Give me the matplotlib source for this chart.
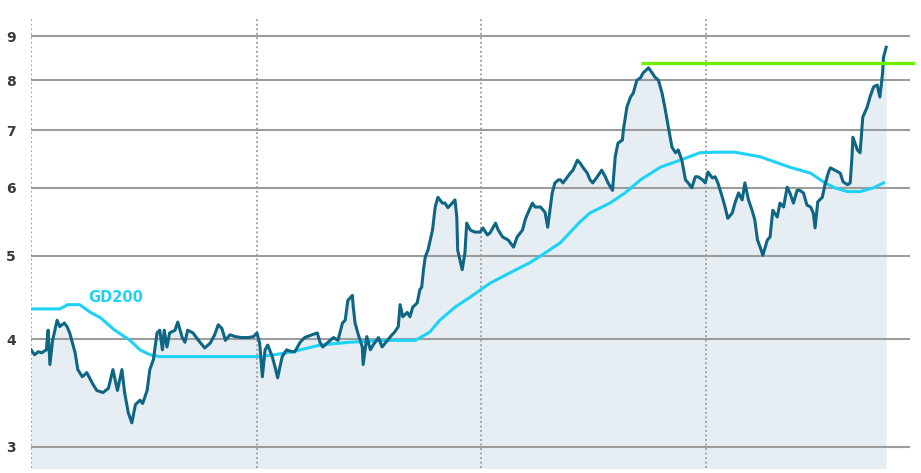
import matplotlib
matplotlib.use("Agg")
import matplotlib.pyplot as plt
from matplotlib.ticker import NullLocator, FixedLocator

# price series (trading day, close)
days = [0, 4, 8, 12, 17, 19, 21, 24, 29, 32, 37, 40, 43, 49, 52, 57, 62, 68, 73, 80,
        86, 91, 96, 101, 104, 108, 112, 116, 121, 124, 129, 132, 136, 140, 143, 146, 148, 151, 154, 160,
        163, 168, 171, 174, 180, 186, 193, 199, 204, 208, 212, 216, 221, 227, 234, 241, 247, 251, 254, 257,
        260, 263, 268, 271, 274, 279, 284, 290, 293, 299, 304, 312, 318, 321, 324, 330, 336, 341, 346, 349,
        352, 357, 358, 360, 363, 368, 369, 373, 377, 380, 386, 390, 396, 401, 404, 408, 410, 413, 418, 421,
        424, 429, 432, 434, 436, 438, 441, 446, 449, 452, 457, 460, 463, 468, 471, 473, 474, 479, 482, 484,
        488, 493, 499, 502, 507, 510, 516, 519, 524, 530, 536, 540, 546, 549, 552, 557, 560, 566, 571, 574,
        579, 582, 586, 588, 591, 596, 599, 602, 607, 610, 613, 618, 621, 624, 629, 634, 638, 641, 646, 649,
        652, 657, 658, 662, 666, 669, 673, 677, 680, 686, 690, 693, 697, 701, 704, 708, 712, 716, 719, 723,
        727, 730, 734, 738, 741, 746, 749, 752, 757, 760, 763, 768, 771, 774, 779, 782, 786, 790, 793, 797,
        801, 804, 807, 810, 813, 818, 821, 824, 829, 832, 836, 840, 843, 847, 851, 854, 858, 862, 866, 869,
        871, 874, 879, 882, 886, 888, 893, 899, 902, 907, 910, 912, 913, 918, 921, 924, 929, 932, 936, 940,
        943, 946, 947, 950]
price = [3.89, 3.84, 3.87, 3.86, 3.89, 4.10, 3.74, 3.99, 4.21, 4.14, 4.18, 4.14, 4.07, 3.86, 3.69, 3.62, 3.66, 3.56, 3.49, 3.47,
         3.51, 3.69, 3.49, 3.69, 3.47, 3.29, 3.20, 3.36, 3.40, 3.37, 3.49, 3.69, 3.79, 4.07, 4.10, 3.89, 4.10, 3.92, 4.07, 4.10,
         4.19, 4.02, 3.97, 4.10, 4.07, 3.99, 3.91, 3.96, 4.05, 4.16, 4.12, 3.99, 4.05, 4.03, 4.02, 4.02, 4.03, 4.07, 3.96, 3.62,
         3.89, 3.94, 3.82, 3.72, 3.61, 3.82, 3.89, 3.87, 3.87, 3.97, 4.02, 4.05, 4.07, 3.97, 3.92, 3.97, 4.02, 3.99, 4.18, 4.21,
         4.44, 4.50, 4.36, 4.18, 4.07, 3.92, 3.74, 4.03, 3.89, 3.94, 4.02, 3.92, 3.99, 4.05, 4.08, 4.14, 4.39, 4.25, 4.30, 4.25,
         4.36, 4.41, 4.57, 4.60, 4.82, 4.99, 5.08, 5.36, 5.70, 5.85, 5.76, 5.76, 5.69, 5.76, 5.81, 5.55, 5.08, 4.82, 5.04, 5.46,
         5.36, 5.33, 5.33, 5.39, 5.29, 5.32, 5.46, 5.36, 5.26, 5.22, 5.12, 5.26, 5.36, 5.51, 5.61, 5.76, 5.70, 5.70, 5.62, 5.40,
         5.92, 6.08, 6.13, 6.13, 6.08, 6.18, 6.24, 6.29, 6.46, 6.41, 6.34, 6.24, 6.13, 6.08, 6.18, 6.29, 6.18, 6.08, 5.96, 6.52,
         6.76, 6.82, 7.00, 7.45, 7.65, 7.73, 8.00, 8.05, 8.16, 8.27, 8.16, 8.07, 8.00, 7.73, 7.45, 7.06, 6.69, 6.59, 6.64, 6.46,
         6.13, 6.08, 6.00, 6.18, 6.18, 6.13, 6.08, 6.26, 6.16, 6.18, 6.08, 5.85, 5.70, 5.53, 5.61, 5.76, 5.92, 5.81, 6.08, 5.81,
         5.65, 5.51, 5.22, 5.12, 5.01, 5.22, 5.26, 5.65, 5.55, 5.76, 5.70, 6.01, 5.92, 5.76, 5.96, 5.96, 5.92, 5.73, 5.70, 5.61,
         5.39, 5.78, 5.85, 6.05, 6.26, 6.33, 6.29, 6.24, 6.10, 6.05, 6.08, 6.52, 6.87, 6.64, 6.59, 7.25, 7.45, 7.65, 7.86, 7.90,
         7.65, 8.16, 8.51, 8.74]

# 200-day moving average
gd_days = [0, 32, 41, 54, 66, 77, 93, 110, 121, 132, 143, 188, 254, 271, 290, 321, 354, 393, 427, 443,
           454, 471, 488, 510, 532, 554, 571, 588, 610, 621, 643, 660, 677, 699, 721, 743, 760, 782, 810, 843,
           866, 882, 893, 907, 921, 936, 947]
gd200 = [4.34, 4.34, 4.39, 4.39, 4.30, 4.24, 4.10, 3.99, 3.89, 3.84, 3.82, 3.82, 3.82, 3.84, 3.87, 3.94, 3.97, 3.99, 3.99, 4.08,
         4.21, 4.36, 4.48, 4.65, 4.78, 4.91, 5.04, 5.18, 5.48, 5.61, 5.76, 5.92, 6.13, 6.34, 6.46, 6.59, 6.60, 6.60, 6.52, 6.34,
         6.24, 6.08, 6.00, 5.94, 5.94, 6.00, 6.08]

resistance = 8.38
resistance_start = 678
yticks = [3, 4, 5, 6, 7, 8, 9]
year_lines = [0, 251, 500, 750]

fig = plt.figure(figsize=(9.21, 4.73), dpi=100)
ax = fig.add_axes([31 / 921, 5 / 473, 884 / 921, 450 / 473])
ax.set_yscale("log")
ax.set_ylim(2.836, 9.45)
ax.set_xlim(0, 982)

ax.fill_between(days, price, 2.7, color="#e6eef4", lw=0, zorder=1)
ax.hlines(yticks, 0, 976, color="#9c9c9c", lw=1.5, zorder=2)
ax.vlines(year_lines, 2.836, 9.45, color="#9a9a9a", lw=1.3, linestyles=(0, (1, 1.5)), zorder=2)
ax.plot(gd_days, gd200, color="#1ed2f5", lw=2.2, zorder=3)
ax.plot(days, price, color="#0f6684", lw=2.2, zorder=4, solid_joinstyle="round")
ax.hlines(resistance, resistance_start, 982, color="#6ff000", lw=2.4, zorder=5)
ax.text(94, 4.47, "GD200", color="#1ed2f5", fontsize=10.5, fontweight="bold",
        ha="center", va="center", zorder=5)

for s in ax.spines.values():
    s.set_visible(False)
ax.yaxis.set_major_locator(FixedLocator(yticks))
ax.yaxis.set_minor_locator(NullLocator())
ax.set_yticklabels([str(t) for t in yticks])
ax.tick_params(axis="y", length=0, pad=11, labelsize=10, labelcolor="#3a3a3a")
for lbl in ax.get_yticklabels():
    lbl.set_fontweight("bold")
ax.set_xticks([])

fig.savefig("out.png", dpi=100, facecolor="white")
